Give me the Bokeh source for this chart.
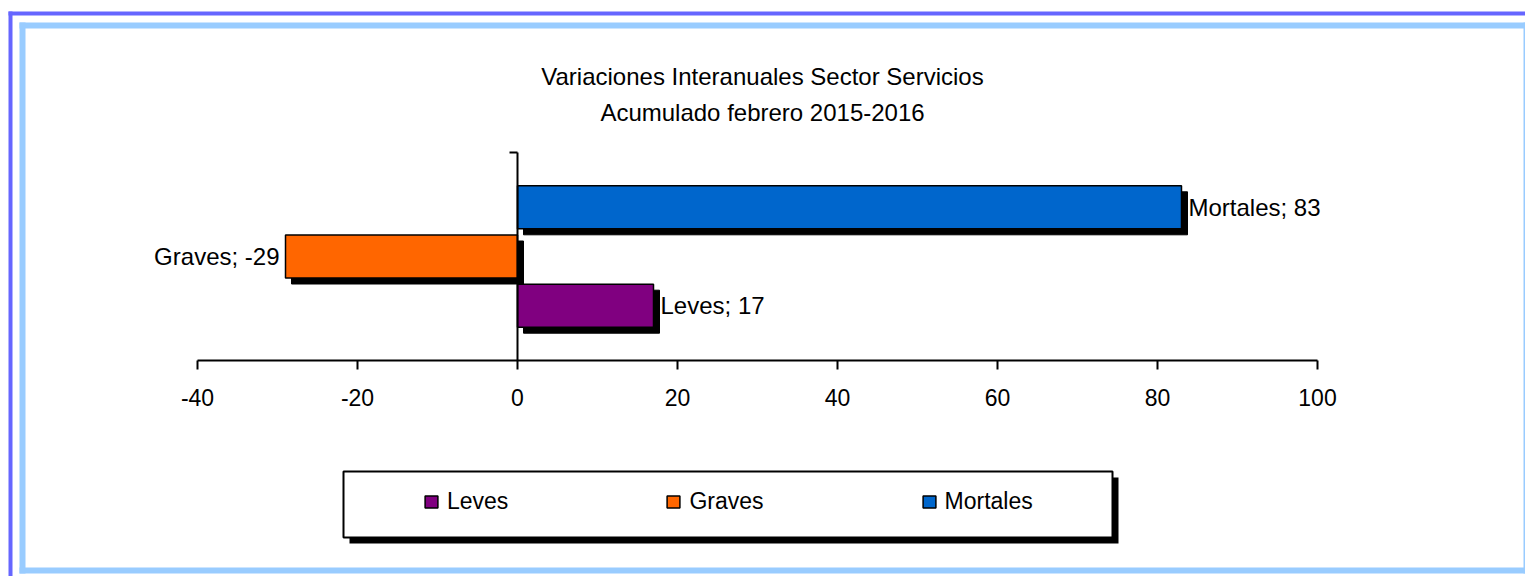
from bokeh.plotting import figure
from bokeh.models import (Range1d, LinearAxis, FixedTicker, ColumnDataSource, Legend,
                          LegendItem, CustomJSTickFormatter)
from bokeh.embed import file_html
from bokeh.resources import INLINE
from bokeh.core.properties import value

# ---------------- data ----------------
title_lines = ["Variaciones Interanuales Sector Servicios", "Acumulado febrero 2015-2016"]
series = ["Leves", "Graves", "Mortales"]
values = [17, -29, 83]
colors = ["#800080", "#FF6600", "#0066CC"]
x_ticks = [-40, -20, 0, 20, 40, 60, 80, 100]

# ---------------- layout (canvas pixels) ----------------
W, H = 1525, 576
FONT = "Liberation Sans"
X_MIN, X_MAX = -40, 100
AX_LEFT, AX_RIGHT = 197, 1317
ppu = (AX_RIGHT - AX_LEFT) / (X_MAX - X_MIN)
x_start = X_MIN - AX_LEFT / ppu
x_end = X_MAX + (W - AX_RIGHT) / ppu

slot_px = 49.2
mid_y = 256
mid_slot = (len(series) - 1) / 2
y_start = mid_slot - (H - mid_y) / slot_px
y_end = mid_slot + mid_y / slot_px
half_axis = 104 / slot_px
y_ax_lo = mid_slot - half_axis
y_ax_hi = mid_slot + half_axis
bar_h = 43 / slot_px
SH = 6  # shadow offset px

p = figure(width=W, height=H, x_range=Range1d(x_start, x_end), y_range=Range1d(y_start, y_end),
           x_axis_type=None, y_axis_type=None, toolbar_location=None, output_backend="svg",
           min_border=0, outline_line_color=None, background_fill_color="white",
           border_fill_color="white")
p.title.visible = False
p.extra_x_ranges = {"px": Range1d(0, W), "sx": Range1d(x_start - SH / ppu, x_end - SH / ppu)}
p.extra_y_ranges = {"py": Range1d(H, 0), "sy": Range1d(y_start + SH / slot_px, y_end + SH / slot_px)}

# ---------------- frame decorations ----------------
outer = dict(left=[8, 8], right=[W, 12], top=[11, 11], bottom=[15, H])
inner = dict(left=[19, 19, 19, 1523], right=[W, 25, W, W], top=[22, 22, 567, 22], bottom=[28, 573, 573, 573])
p.quad(source=ColumnDataSource(outer), left="left", right="right", top="top", bottom="bottom",
       x_range_name="px", y_range_name="py", fill_color="#6666FF", line_color=None)
p.quad(source=ColumnDataSource(inner), left="left", right="right", top="top", bottom="bottom",
       x_range_name="px", y_range_name="py", fill_color="#99CCFF", line_color=None)

# legend box with shadow
LB = (343, 1112, 471, 537)
p.quad(left=[LB[0] + SH], right=[LB[1] + SH], top=[LB[2] + SH], bottom=[LB[3] + SH],
       x_range_name="px", y_range_name="py", fill_color="black", line_color=None)
p.quad(left=[LB[0]], right=[LB[1]], top=[LB[2]], bottom=[LB[3]],
       x_range_name="px", y_range_name="py", fill_color="white", line_color="black", line_width=2)

# title
p.text(x=[762, 762], y=[75.5, 112], text=title_lines, x_range_name="px", y_range_name="py",
       text_align="center", text_baseline="middle", text_font=value(FONT),
       text_font_size="24px", text_color="black")

# ---------------- bars ----------------
slots = list(range(len(series)))
src = ColumnDataSource(dict(
    y=slots, v=values, c=colors,
    lbl=[f"{s}; {v}" for s, v in zip(series, values)],
    align=["left" if v >= 0 else "right" for v in values],
    xo=[7 if v >= 0 else -6 for v in values],
))

p.hbar(y="y", left=0, right="v", height=bar_h, source=src, x_range_name="sx", y_range_name="sy",
       fill_color="black", line_color="black")
bars = p.hbar(y="y", left=0, right="v", height=bar_h, source=src, fill_color="c",
              line_color="black", line_width=1.5)

p.text(x="v", y="y", text="lbl", source=src, text_align="align", x_offset="xo",
       text_baseline="middle", text_font=value(FONT), text_font_size="24px", text_color="black")

# ---------------- axes ----------------
xa = LinearAxis(fixed_location=y_ax_lo, bounds=(X_MIN, X_MAX),
                ticker=FixedTicker(ticks=x_ticks, minor_ticks=[]),
                formatter=CustomJSTickFormatter(code="return tick.toFixed(0)"),
                axis_line_width=2, axis_line_color="black",
                major_tick_line_width=2, major_tick_line_color="black",
                major_tick_out=9, major_tick_in=0, minor_tick_out=0, minor_tick_in=0,
                major_label_text_font=FONT, major_label_text_font_size="23px",
                major_label_text_color="black", major_label_standoff=19)
p.add_layout(xa, "below")

ya = LinearAxis(fixed_location=0, bounds=(y_ax_lo, y_ax_hi),
                ticker=FixedTicker(ticks=[y_ax_hi], minor_ticks=[]),
                formatter=CustomJSTickFormatter(code="return ''"),
                axis_line_width=2, axis_line_color="black",
                major_tick_line_width=2, major_tick_line_color="black",
                major_tick_out=8, major_tick_in=0, minor_tick_out=0, minor_tick_in=0)
p.add_layout(ya, "left")

# ---------------- legend ----------------
legend = Legend(items=[LegendItem(label=s, renderers=[bars], index=i) for i, s in enumerate(series)],
                orientation="horizontal", location=(423, 61), padding=0, margin=0, spacing=157,
                glyph_width=16, glyph_height=15, label_standoff=8,
                label_text_font=FONT, label_text_font_size="23px", label_text_color="black",
                border_line_color=None, background_fill_alpha=0)
p.add_layout(legend)

open("out.html", "w").write(file_html(p, INLINE))
